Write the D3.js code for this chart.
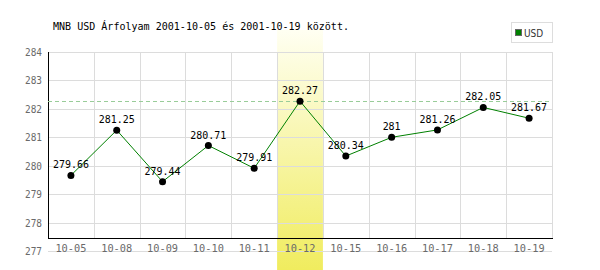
<!DOCTYPE html>
<html><head><meta charset="utf-8">
<script src="https://cdn.jsdelivr.net/npm/d3@7"></script>
<style>body{margin:0;background:#fff}svg{display:block}</style>
</head><body><svg id="c" width="600" height="270"></svg>
<script>
const categories = ["10-05","10-08","10-09","10-10","10-11","10-12","10-15","10-16","10-17","10-18","10-19"];
const usdValues = [279.66,281.25,279.44,280.71,279.91,282.27,280.34,281,281.26,282.05,281.67];
const valueLabels = ["279.66","281.25","279.44","280.71","279.91","282.27","280.34","281","281.26","282.05","281.67"];
const yTicks = [277,278,279,280,281,282,283,284];
const highlightCategory = "10-12";
const titleText = "MNB USD Árfolyam 2001-10-05 és 2001-10-19 között.";
const seriesName = "USD";

const svg = d3.select("#c");
const L = 48, R = 552, T = 52, B = 251, AX = 238;
const x = d3.scaleBand().domain(categories).range([L, R]);
const y = d3.scaleLinear().domain([277, 284]).range([B, T]);
const mono = "'DejaVu Sans Mono', 'Liberation Mono', monospace";

const defs = svg.append("defs");
const g = defs.append("linearGradient").attr("id","hl").attr("x1",0).attr("y1",0).attr("x2",0).attr("y2",1);
g.append("stop").attr("offset","0%").attr("stop-color","#fffff2");
g.append("stop").attr("offset","100%").attr("stop-color","#f0ec5e");

// highlight band
svg.append("rect").attr("x", x(highlightCategory)).attr("width", x.bandwidth())
  .attr("y", 30).attr("height", 240).attr("fill", "url(#hl)");

// horizontal grid
svg.append("g").selectAll("line").data(yTicks).join("line")
  .attr("x1", L).attr("x2", R).attr("y1", d => Math.round(y(d)) + 0.5).attr("y2", d => Math.round(y(d)) + 0.5)
  .attr("stroke", "#dcdcdc");
// vertical grid
svg.append("g").selectAll("line").data(categories.slice(1).concat(["__end"])).join("line")
  .attr("x1", (d,i) => Math.round(i < categories.length - 1 ? x(d) : R) + 0.5)
  .attr("x2", (d,i) => Math.round(i < categories.length - 1 ? x(d) : R) + 0.5)
  .attr("y1", T).attr("y2", AX).attr("stroke", "#dcdcdc");

// axes lines
svg.append("line").attr("x1", L + 0.5).attr("x2", L + 0.5).attr("y1", T).attr("y2", AX + 1).attr("stroke", "#000");
svg.append("line").attr("x1", L).attr("x2", R + 1).attr("y1", AX + 0.5).attr("y2", AX + 0.5).attr("stroke", "#000");

// y tick labels
svg.append("g").selectAll("text").data(yTicks).join("text")
  .attr("x", 42).attr("y", d => y(d) + 4).attr("text-anchor", "end")
  .attr("font-family", mono).attr("font-size", 10.5).attr("textLength", 17).attr("lengthAdjust", "spacingAndGlyphs")
  .attr("fill", "#6a6a6a").text(d => d);

// x labels
svg.append("g").selectAll("text").data(categories).join("text")
  .attr("x", d => x(d) + x.bandwidth() / 2).attr("y", 252).attr("text-anchor", "middle")
  .attr("font-family", mono).attr("font-size", 10.5).attr("textLength", 31).attr("lengthAdjust", "spacingAndGlyphs")
  .attr("fill", "#6a6a6a").text(d => d);

// max dashed line
const maxV = d3.max(usdValues);
svg.append("line").attr("x1", L).attr("x2", R).attr("y1", Math.round(y(maxV)) + 0.5).attr("y2", Math.round(y(maxV)) + 0.5)
  .attr("stroke", "#99cc99").attr("stroke-dasharray", "4,3");

// line
const cx = d => x(d) + x.bandwidth() / 2;
svg.append("path").datum(usdValues.map((v,i) => [cx(categories[i]), y(v)]))
  .attr("d", d3.line()).attr("fill", "none").attr("stroke", "#008000").attr("stroke-width", 1);

// points
svg.append("g").selectAll("circle").data(usdValues).join("circle")
  .attr("cx", (d,i) => cx(categories[i])).attr("cy", d => y(d)).attr("r", 3.5).attr("fill", "#000");

// value labels
svg.append("g").selectAll("text").data(usdValues).join("text")
  .attr("x", (d,i) => cx(categories[i])).attr("y", d => y(d) - 7).attr("text-anchor", "middle")
  .attr("font-family", mono).attr("font-size", 10.5).attr("textLength", (d,i) => valueLabels[i].length * 6)
  .attr("lengthAdjust", "spacingAndGlyphs")
  .attr("fill", "#000").text((d,i) => valueLabels[i]);

// title
svg.append("text").attr("x", 53).attr("y", 30).attr("font-family", mono).attr("font-size", 10)
  .attr("textLength", 296).attr("lengthAdjust", "spacingAndGlyphs")
  .attr("fill", "#000").text(titleText);

// legend
svg.append("rect").attr("x", 511.5).attr("y", 22.5).attr("width", 41).attr("height", 20)
  .attr("fill", "#fff").attr("stroke", "#ddd");
svg.append("rect").attr("x", 515.5).attr("y", 29.5).attr("width", 6).attr("height", 6)
  .attr("fill", "#008000").attr("stroke", "#666");
svg.append("text").attr("x", 524).attr("y", 36.5).attr("font-family", "'Liberation Sans Narrow', 'DejaVu Sans Condensed', sans-serif")
  .attr("font-size", 10).attr("fill", "#333").text(seriesName);
</script></body></html>
